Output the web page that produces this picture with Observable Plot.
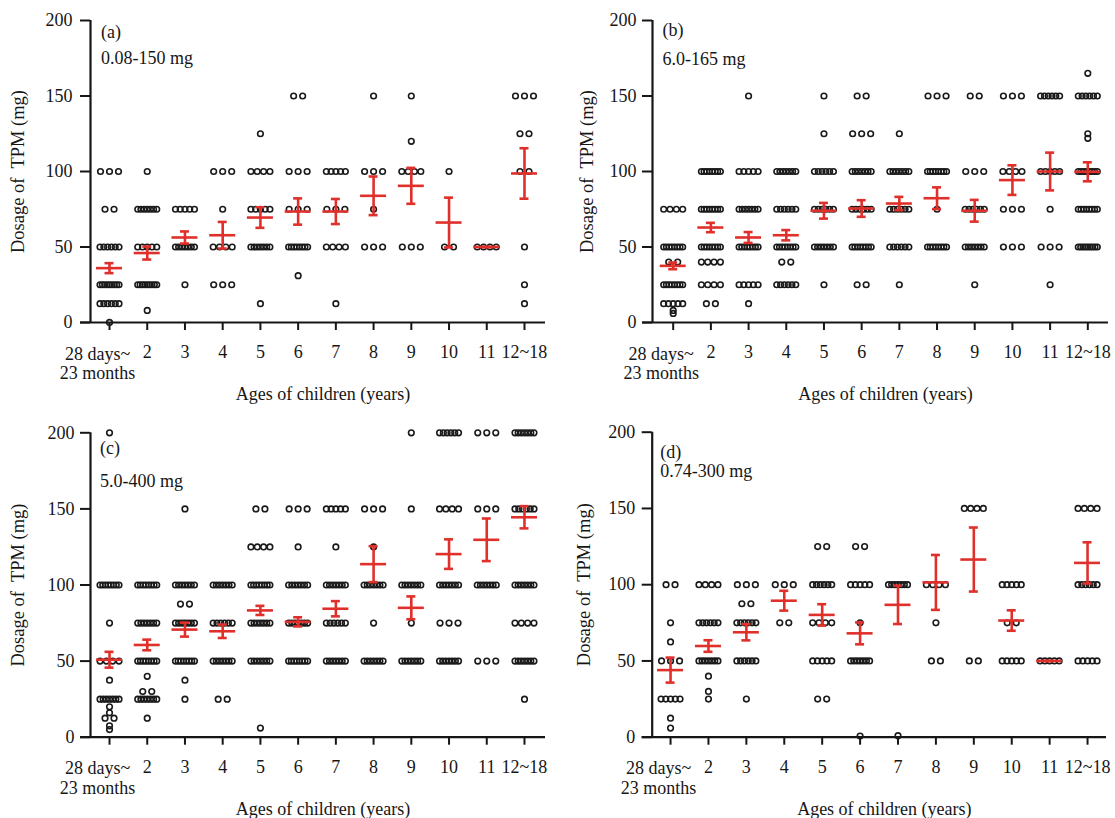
<!DOCTYPE html>
<html><head><meta charset="utf-8">
<script src="https://cdn.jsdelivr.net/npm/d3@7"></script>
<script src="https://cdn.jsdelivr.net/npm/@observablehq/plot@0.6"></script>
<style>
body{margin:0;background:#fff;}
#chart{position:relative;width:1115px;height:818px;background:#fff;}
#chart > div{position:absolute;}
</style></head><body><div id="chart"></div>
<script>
// ---------- data ----------
const ages = ["28 days~\n23 months","2","3","4","5","6","7","8","9","10","11","12~18"];
const panelLetters = ["(a)","(b)","(c)","(d)"];
const doseRanges = ["0.08-150 mg","6.0-165 mg","5.0-400 mg","0.74-300 mg"];
const yTicks = [0,50,100,150,200];
const xTitle = "Ages of children (years)";
const yTitle = "Dosage of  TPM (mg)";

// each category: [dose, number of children]
const dosesA = [
  [[100,3],[75,2],[50,6],[25,9],[12.5,6],[0.08,1]],
  [[100,1],[75,7],[50,5],[25,9],[8,1]],
  [[75,5],[50,7],[25,1]],
  [[100,3],[75,1],[50,4],[25,3]],
  [[125,1],[100,4],[75,5],[50,7],[12.5,1]],
  [[150,2],[100,3],[75,3],[50,8],[31,1]],
  [[100,5],[75,3],[50,4],[12.5,1]],
  [[150,1],[100,3],[75,1],[50,3]],
  [[150,1],[120,1],[100,4],[50,3]],
  [[100,1],[50,2]],
  [[50,4]],
  [[150,3],[125,2],[100,2],[50,1],[25,1],[12.5,1]]
];
const meanA = [36,46,56.3,57.8,69.5,73.5,73.5,83.9,90.5,66.2,50,98.7];
const semA  = [3.3,4.3,4,8.8,6.8,8.7,8.3,12.8,11.9,16.5,0,16.7];

const dosesB = [
  [[75,4],[50,8],[40,2],[25,8],[12.5,5],[8,1],[6,1]],
  [[100,8],[75,8],[50,8],[40,4],[25,4],[12.5,2]],
  [[150,1],[100,5],[75,7],[50,8],[25,5],[12.5,1]],
  [[100,7],[75,6],[50,8],[40,2],[25,6]],
  [[150,1],[125,1],[100,6],[75,6],[50,7],[25,1]],
  [[150,2],[125,3],[100,7],[75,6],[50,8],[25,2]],
  [[125,1],[100,7],[75,6],[50,6],[25,1]],
  [[150,3],[100,8],[75,1],[50,8]],
  [[150,2],[100,3],[75,6],[50,7],[25,1]],
  [[150,3],[100,4],[75,3],[50,3]],
  [[150,6],[100,5],[75,1],[50,3],[25,1]],
  [[165,1],[150,6],[125,1],[122,1],[100,8],[75,8],[50,9]]
];
const meanB = [37.5,62.9,56.3,57.8,74,75.5,78.8,82.3,74,94.3,100,99.8];
const semB  = [2.2,3.1,3.6,3.4,5.2,5.5,4.4,7.2,7.2,9.8,12.5,6.3];

const dosesC = [
  [[200,1],[100,8],[75,1],[50,4],[37.5,1],[25,7],[20,1],[16,1],[12.5,2],[7.5,1],[5,1]],
  [[100,8],[75,7],[50,8],[40,1],[30,2],[25,7],[12.5,1]],
  [[150,1],[100,7],[87.5,2],[75,7],[50,8],[37.5,1],[25,1]],
  [[100,7],[75,6],[50,7],[25,2]],
  [[150,2],[125,4],[100,8],[75,7],[50,7],[6,1]],
  [[150,3],[125,1],[100,7],[75,7],[50,8]],
  [[150,5],[125,1],[100,7],[75,6],[50,7]],
  [[150,3],[125,1],[100,7],[75,1],[50,7]],
  [[200,1],[150,1],[100,7],[75,1],[50,7]],
  [[200,6],[150,4],[100,7],[75,3],[50,7]],
  [[200,3],[150,3],[100,7],[50,3]],
  [[200,7],[150,6],[100,7],[75,4],[50,7],[25,1]]
];
const meanC = [50.9,60.6,70.7,69.6,83.3,75.8,84.4,113.7,85,120.3,129.7,144.5];
const semC  = [5.2,3.5,4.6,4.4,3,3,5,11.8,7.5,9.7,14,7.3];

const dosesD = [
  [[100,2],[75,1],[62.5,1],[50,3],[25,5],[12.5,1],[6,1]],
  [[100,4],[75,6],[50,7],[40,1],[30,1],[25,1]],
  [[100,3],[87.5,2],[75,6],[50,6],[25,1]],
  [[100,3],[75,2]],
  [[125,2],[100,6],[75,4],[50,5],[25,2]],
  [[125,2],[100,5],[75,1],[50,7],[0.74,1]],
  [[100,7],[1,1]],
  [[100,4],[75,1],[50,2]],
  [[150,4],[50,2]],
  [[100,5],[75,2],[50,5]],
  [[50,5]],
  [[150,4],[100,6],[50,5]]
];
const meanD = [44,59.8,68.8,89.5,80.2,68.1,86.8,101.5,116.5,76.5,50,114.3];
const semD  = [8.2,3.8,5.3,6.5,7,7.2,12.6,18,21,6.7,0,13.5];

// ---------- layout ----------
const panels = [
  {doses:dosesA, mean:meanA, sem:semA, left:0,   top:0,   width:557, height:410, mL:90,   mR:12, mT:20,   mB:88,   x0:0.496, x1:12.557, tickPad:8,  yDx:-72, lDy:11.7, rDy:37.7, lDx:10.5},
  {doses:dosesB, mean:meanB, sem:semB, left:557, top:0,   width:558, height:410, mL:95,   mR:7,  mT:20,   mB:88,   x0:0.451, x1:12.549, tickPad:6,  yDx:-65, lDy:10,   rDy:39,   lDx:10},
  {doses:dosesC, mean:meanC, sem:semC, left:0,   top:410, width:557, height:408, mL:90,   mR:12, mT:22.3, mB:81.3, x0:0.496, x1:12.557, tickPad:6,  yDx:-72, lDy:15,   rDy:48.4, lDx:9.5},
  {doses:dosesD, mean:meanD, sem:semD, left:557, top:410, width:558, height:408, mL:94.7, mR:9,  mT:21.7, mB:81.3, x0:0.516, x1:12.5,   tickPad:7,  yDx:-68, lDy:19.7, rDy:39,   lDx:8}
];

const red = "#e0302b";
const ink = "#161616";
const font = "'Liberation Serif','Times New Roman',serif";

function makePoints(groups){
  const pts = [];
  groups.forEach((g, i) => {
    for (const [v, n] of g) {
      const sp = n > 1 ? Math.min(9, 19/(n-1)) : 0;
      for (let k = 0; k < n; k++) pts.push({cat: i+1, v, off: (k-(n-1)/2)*sp});
    }
  });
  return pts;
}

const chart = document.getElementById("chart");
panels.forEach((P, pi) => {
  const pxPerUnit = (P.width - P.mL - P.mR) / (P.x1 - P.x0);
  const pts = makePoints(P.doses);
  const stats = P.mean.map((m, i) => ({cat: i+1, mean: m, sem: P.sem[i]}));
  const meanHalf = 13 / pxPerUnit, capHalf = 4.5 / pxPerUnit;
  const svg = Plot.plot({
    width: P.width, height: P.height,
    marginLeft: P.mL, marginRight: P.mR, marginTop: P.mT, marginBottom: P.mB,
    x: {domain: [P.x0, P.x1]},
    y: {domain: [0, 200]},
    style: {fontFamily: font, fontSize: "18px", background: "transparent", color: ink, overflow: "visible"},
    marks: [
      Plot.ruleX([P.x0], {y1: 0, y2: 200, stroke: ink, strokeWidth: 2.2}),
      Plot.ruleY([0], {x1: P.x0 - 10/pxPerUnit, x2: P.x1, stroke: ink, strokeWidth: 2.2}),
      Plot.axisY({ticks: yTicks, tickSize: 10, tickPadding: P.tickPad, strokeWidth: 2, fontSize: 18, label: null, fill: ink}),
      Plot.axisX({ticks: d3.range(1, 13), tickSize: 8, tickPadding: 15, strokeWidth: 2,
                  tickFormat: i => i === 1 ? "" : ages[i-1], fontSize: 18, label: null, fill: ink}),
      Plot.text([ages[0]], {x: 1, frameAnchor: "bottom", lineAnchor: "top", dy: 23, dx: -12, fontSize: 18, lineHeight: 1.1, fill: ink}),
      Plot.text([xTitle], {frameAnchor: "bottom", lineAnchor: "middle", dy: 72, dx: 5, fontSize: 18, fill: ink}),
      Plot.text([yTitle], {frameAnchor: "left", textAnchor: "middle", lineAnchor: "middle", rotate: -90, dx: P.yDx, fontSize: 18.5, fill: ink}),
      Plot.text([panelLetters[pi]], {frameAnchor: "top-left", textAnchor: "start", lineAnchor: "middle", dx: P.lDx, dy: P.lDy, fontSize: 18, fill: ink}),
      Plot.text([doseRanges[pi]], {frameAnchor: "top-left", textAnchor: "start", lineAnchor: "middle", dx: P.lDx, dy: P.rDy, fontSize: 18, fill: ink}),
      Plot.dot(pts, {x: d => d.cat + d.off/pxPerUnit, y: "v", r: 2.8, stroke: "#1a1a1a", strokeWidth: 1.6, fill: "none"}),
      Plot.ruleX(stats, {x: "cat", y1: d => d.mean - d.sem, y2: d => d.mean + d.sem, stroke: red, strokeWidth: 2.6}),
      Plot.ruleY(stats, {y: "mean", x1: d => d.cat - meanHalf, x2: d => d.cat + meanHalf, stroke: red, strokeWidth: 2.6}),
      Plot.ruleY(stats, {y: d => d.mean + d.sem, x1: d => d.cat - capHalf, x2: d => d.cat + capHalf, stroke: red, strokeWidth: 2.6}),
      Plot.ruleY(stats, {y: d => d.mean - d.sem, x1: d => d.cat - capHalf, x2: d => d.cat + capHalf, stroke: red, strokeWidth: 2.6})
    ]
  });
  const holder = document.createElement("div");
  holder.style.left = P.left + "px";
  holder.style.top = P.top + "px";
  holder.appendChild(svg);
  chart.appendChild(holder);
});
</script>
</body></html>
